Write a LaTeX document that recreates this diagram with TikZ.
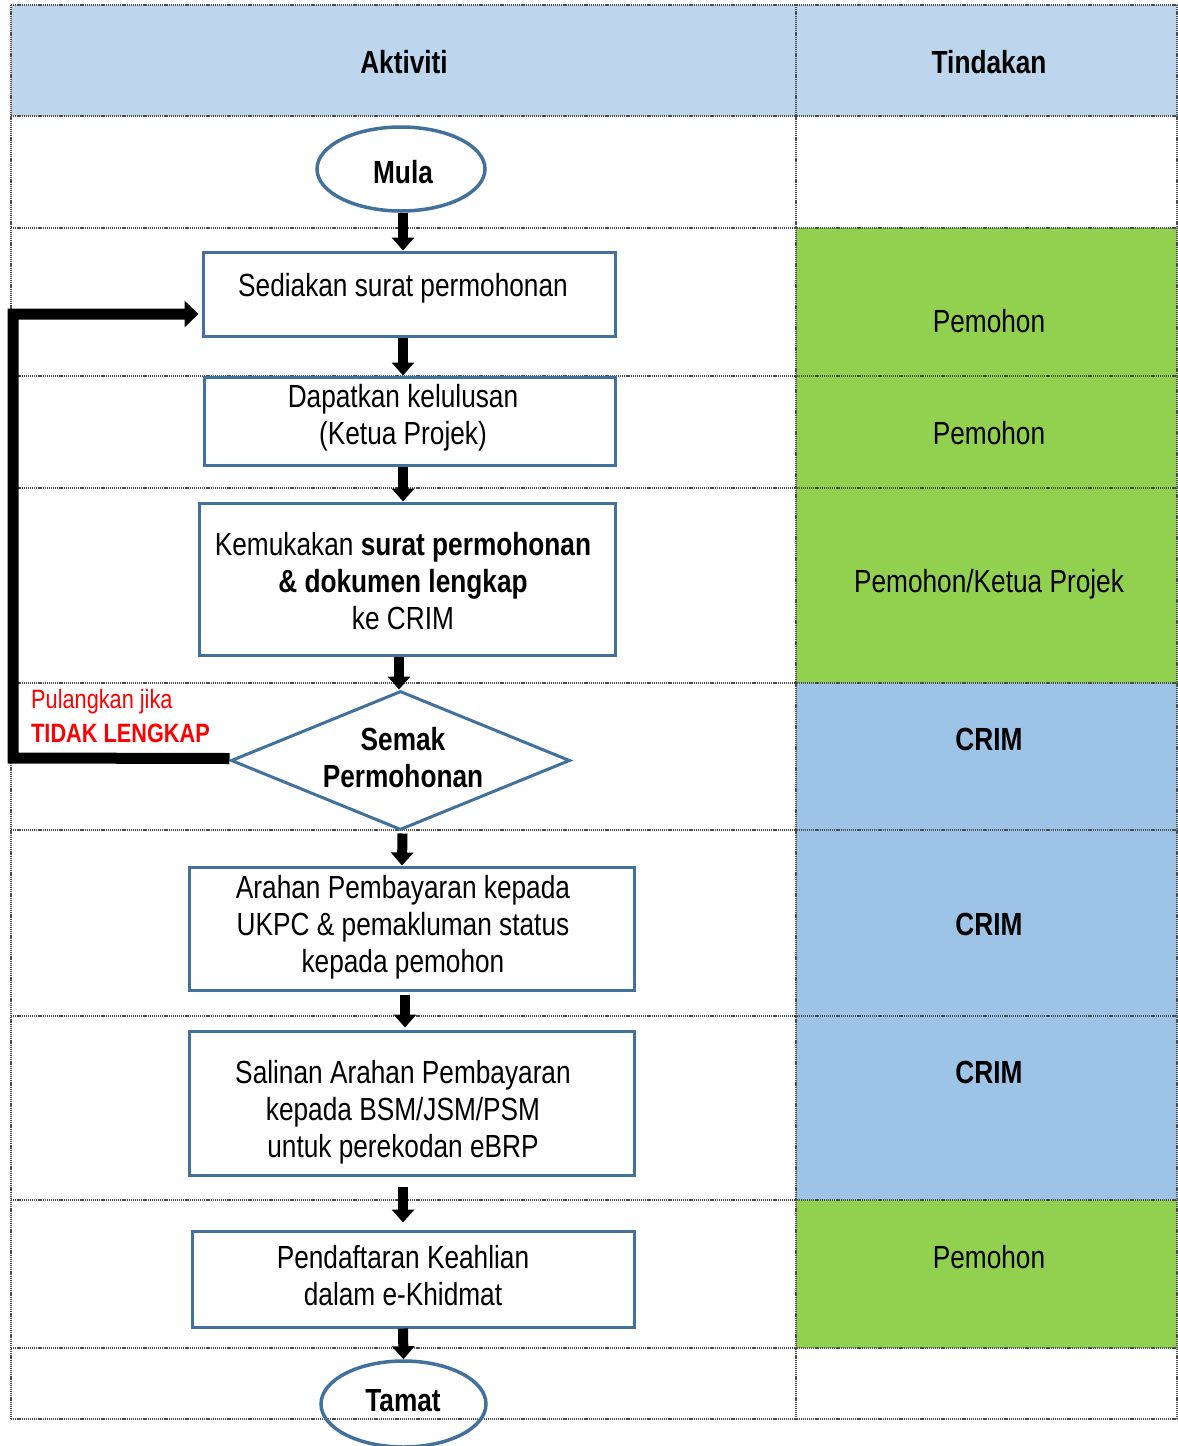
\documentclass[tikz,border=0pt]{standalone}
\usepackage{fontspec}
\setmainfont{Liberation Sans}[FakeStretch=0.82]
\usetikzlibrary{shapes.geometric,arrows.meta,calc}
\definecolor{hdr}{RGB}{189,214,238}
\definecolor{grn}{RGB}{146,208,80}
\definecolor{blu}{RGB}{157,195,230}
\definecolor{edgeblue}{RGB}{65,113,156}
\begin{document}
\begin{tikzpicture}[x=1pt,y=-1pt,
  gridline/.style={line width=1.4pt, dash pattern=on 1.2pt off 0.9pt, black!70},
  box/.style={draw=edgeblue, line width=3pt, rectangle, inner sep=0pt},
  term/.style={draw=edgeblue, line width=3.5pt, ellipse, inner sep=0pt},
  decision/.style={draw=edgeblue, line width=3pt, diamond, inner sep=0pt},
  flow/.style={line width=10pt, -{Triangle[width=22pt,length=13pt]}},
  backflow/.style={line width=11pt, line join=miter, -{Triangle[width=26pt,length=14pt]}},
  act/.style={font=\fontsize{32}{37}\selectfont, inner sep=0pt, align=center},
  actb/.style={font=\fontsize{32}{37}\selectfont\bfseries, inner sep=0pt, align=center},
  note/.style={text=red, font=\fontsize{26.5}{33}\selectfont, inner sep=0pt, anchor=west}
]
\useasboundingbox (0,0) rectangle (1178,1446);
% fills
\fill[hdr] (11,5) rectangle (1177,116);
\fill[grn] (796,228) rectangle (1177,683);
\fill[blu] (796,683) rectangle (1177,1200);
\fill[grn] (796,1200) rectangle (1177,1348);
% grid
\foreach \yy in {5,116,228,376,488,683,830,1016,1200,1348,1419}
  \draw[gridline] (11,\yy) -- (1177,\yy);
\foreach \xx in {11,796,1177}
  \draw[gridline] (\xx,5) -- (\xx,1419);
% header
\node[actb] (h1) at (404,62) {Aktiviti};
\node[actb] (h2) at (989,62) {Tindakan};
% right column
\node[act] (t1) at (989,321) {Pemohon};
\node[act] (t2) at (989,433) {Pemohon};
\node[act] (t3) at (989,584) {Pemohon/Ketua Projek};
\node[actb] (t4) at (989,739) {CRIM};
\node[actb] (t5) at (989,924) {CRIM};
\node[actb] (t6) at (989,1072) {CRIM};
\node[act] (t7) at (989,1257) {Pemohon};
% flow shapes
\node[term, minimum width=168pt, minimum height=84pt] (mula) at (401,169) {};
\node[box, minimum width=412pt, minimum height=84pt] (b1) at (409,294) {};
\node[box, minimum width=411pt, minimum height=88pt] (b2) at (409.5,421) {};
\node[box, minimum width=416pt, minimum height=152pt] (b3) at (407,579) {};
\node[decision, minimum width=339pt, minimum height=139pt, aspect=2.44] (dia) at (400.5,760.5) {};
\node[box, minimum width=445pt, minimum height=123pt] (b4) at (411.5,928.5) {};
\node[box, minimum width=445pt, minimum height=144pt] (b5) at (411.5,1103) {};
\node[box, minimum width=442pt, minimum height=96pt] (b6) at (413,1279) {};
\node[term, minimum width=165pt, minimum height=86pt] (tamat) at (403.5,1404) {};
% texts of flow shapes
\node[actb] (mulat) at (403,172) {Mula};
\node[act] (b1t) at (403,288) {Sediakan surat permohonan};
\node[act] (b2t) at (403,418) {Dapatkan kelulusan\\(Ketua Projek)};
\node[act] (b3t) at (403,581) {Kemukakan \textbf{surat permohonan}\\\textbf{\& dokumen lengkap}\\ke CRIM};
\node[actb] (diat) at (403,757.5) {Semak\\Permohonan};
\node[act] (b4t) at (403,927.5) {Arahan Pembayaran kepada\\UKPC \& pemakluman status\\kepada pemohon};
\node[act] (b5t) at (403,1112) {Salinan Arahan Pembayaran\\kepada BSM/JSM/PSM\\untuk perekodan eBRP};
\node[act] (b6t) at (403,1276) {Pendaftaran Keahlian\\dalam e-Khidmat};
\node[actb] (tamatt) at (403,1401) {Tamat};
% note
\node[note] (n1) at (31,702) {Pulangkan jika};
\node[note, font=\fontsize{26.5}{33}\selectfont\bfseries] (n2) at (31,733) {TIDAK LENGKAP};
% arrows
\draw[flow] (mula.south -| 403,0) -- (b1.north -| 403,0);
\draw[flow] (b1.south -| 403,0) -- (b2.north -| 403,0);
\draw[flow] (b2.south -| 403,0) -- (b3.north -| 403,0);
\draw[flow] (b3.south -| 399,0) -- (dia.north -| 399,0);
\draw[flow] ($(dia.south)+(2,2)$) -- (b4.north -| 402,0);
\draw[flow] ($(b4.south -| 405,0)+(0,3)$) -- ($(b5.north -| 405,0)+(0,-2)$);
\draw[flow] ($(b5.south -| 403,0)+(0,10)$) -- ($(b6.north -| 403,0)+(0,-7)$);
\draw[flow] (b6.south -| 403,0) -- (tamat.north);
% return loop
\draw[backflow] ($(dia.west)+(0,-2)$) -- (13,758) -- (13,314) -- ($(b1.west)+(-3,20)$);
\end{tikzpicture}
\end{document}
